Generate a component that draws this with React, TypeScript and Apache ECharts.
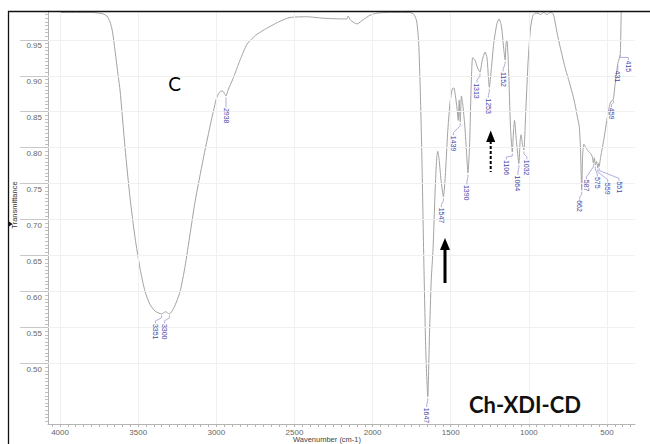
import React, { useEffect, useRef } from 'react';
import * as echarts from 'echarts';

// Spectrum: [wavenumber (cm-1), transmittance]
const spectrum: [number, number][] = [
  [4000, 0.988], [3900, 0.988], [3800, 0.988], [3750, 0.987], [3725, 0.986],
  [3700, 0.983], [3680, 0.975], [3665, 0.962], [3648, 0.935], [3627, 0.898],
  [3616, 0.88], [3584, 0.8], [3552, 0.73], [3520, 0.675], [3488, 0.632],
  [3456, 0.6], [3424, 0.582], [3392, 0.573], [3351, 0.569], [3325, 0.572],
  [3300, 0.569], [3270, 0.578], [3232, 0.6], [3200, 0.635], [3168, 0.68],
  [3136, 0.725], [3085, 0.783], [3040, 0.83], [3000, 0.868], [2980, 0.877],
  [2960, 0.879], [2950, 0.876], [2938, 0.872], [2925, 0.88], [2893, 0.896],
  [2848, 0.922], [2803, 0.944], [2750, 0.956], [2701, 0.963], [2600, 0.975],
  [2528, 0.981], [2420, 0.982], [2317, 0.98], [2200, 0.979], [2164, 0.979],
  [2157, 0.983], [2140, 0.977], [2100, 0.972], [2060, 0.978], [2017, 0.984],
  [1972, 0.987], [1900, 0.988], [1800, 0.988], [1761, 0.988], [1735, 0.985],
  [1718, 0.976], [1705, 0.945], [1695, 0.88], [1684, 0.78], [1672, 0.64],
  [1660, 0.52], [1647, 0.454], [1636, 0.54], [1625, 0.615], [1613, 0.66],
  [1600, 0.74], [1590, 0.785], [1583, 0.795], [1575, 0.785], [1562, 0.755],
  [1547, 0.732], [1535, 0.76], [1520, 0.82], [1505, 0.862], [1490, 0.882],
  [1480, 0.883], [1470, 0.872], [1460, 0.855], [1452, 0.838], [1446, 0.866],
  [1439, 0.836], [1432, 0.872], [1424, 0.862], [1410, 0.83], [1398, 0.79],
  [1390, 0.765], [1380, 0.8], [1370, 0.88], [1360, 0.925], [1345, 0.922],
  [1330, 0.912], [1313, 0.905], [1298, 0.922], [1280, 0.933], [1268, 0.925],
  [1253, 0.884], [1240, 0.91], [1225, 0.945], [1205, 0.972], [1191, 0.979],
  [1175, 0.968], [1160, 0.935], [1152, 0.922], [1146, 0.945], [1140, 0.949],
  [1130, 0.91], [1118, 0.83], [1106, 0.794], [1098, 0.825], [1092, 0.838],
  [1080, 0.81], [1064, 0.778], [1056, 0.81], [1050, 0.818], [1040, 0.803],
  [1032, 0.797], [1020, 0.85], [1005, 0.92], [990, 0.965], [974, 0.984],
  [955, 0.987], [942, 0.987], [925, 0.985], [905, 0.988], [885, 0.985],
  [865, 0.988], [844, 0.986], [820, 0.96], [800, 0.94], [769, 0.912],
  [740, 0.89], [716, 0.871], [700, 0.855], [690, 0.843], [678, 0.83],
  [670, 0.8], [662, 0.741], [656, 0.79], [648, 0.805], [635, 0.8],
  [620, 0.795], [605, 0.792], [595, 0.788], [587, 0.779], [581, 0.786],
  [575, 0.776], [567, 0.781], [559, 0.772], [555, 0.778], [551, 0.774],
  [540, 0.788], [520, 0.812], [500, 0.84], [480, 0.862], [470, 0.865],
  [459, 0.868], [450, 0.885], [445, 0.893], [438, 0.905], [431, 0.917],
  [424, 0.922], [418, 0.928], [415, 0.931], [412, 0.955], [409, 0.988],
  [405, 0.99],
];

const peakWavenumbers = [3351, 3300, 2938, 1647, 1547, 1439, 1390, 1313, 1253, 1152, 1106, 1064, 1032, 662, 587, 575, 559, 551, 459, 431, 415];
const peakTransmittance = [0.569, 0.569, 0.872, 0.454, 0.732, 0.836, 0.765, 0.905, 0.884, 0.922, 0.794, 0.778, 0.797, 0.741, 0.779, 0.776, 0.772, 0.774, 0.868, 0.917, 0.931];
// label layout (pixel shifts of the rotated labels relative to their peak)
const labelShift: [number, number][] = [
  [-6, 0], [-5, 0], [0, 2], [-1, 1], [-2, 1], [-7, 4], [-1, 2], [-3, 1], [-1, 1], [-2, 2],
  [-6, -2], [-1, 2], [3, 0], [-2, 0], [-7, 7], [2, 2], [10, 5], [20, 5], [-2, -1], [0, -3], [8, -3],
];

const xTickLabels = [4000, 3500, 3000, 2500, 2000, 1500, 1000, 500];
const yTickLabels = [0.95, 0.9, 0.85, 0.8, 0.75, 0.7, 0.65, 0.6, 0.55, 0.5];

const X_MIN = 321;
const X_MAX = 4077;
const Y_MIN = 0.416;
const Y_MAX = 0.99;

const xMinorTicks: number[] = [];
for (let v = 350; v <= 4050; v += 50) xMinorTicks.push(v);
const yMinorTicks: number[] = [];
for (let k = 84; k <= 198; k++) yMinorTicks.push(Math.round(k * 5) / 1000);

export default function App() {
  const ref = useRef<HTMLDivElement>(null);
  useEffect(() => {
    if (!ref.current) return;
    const chart = echarts.init(ref.current, undefined, { renderer: 'svg' });
    const gridMarks = [
      ...xTickLabels.map((v) => ({ xAxis: v })),
      ...yTickLabels.map((v) => ({ yAxis: v })),
    ];
    chart.setOption({
      animation: false,
      backgroundColor: '#ffffff',
      grid: { left: 48, right: 15, top: 11, bottom: 20, outerBoundsMode: 'none', containLabel: false },
      xAxis: [
        {
          type: 'value',
          inverse: true,
          min: X_MIN,
          max: X_MAX,
          position: 'bottom',
          axisLine: { show: true, lineStyle: { color: '#b4b4b4', width: 1 } },
          axisTick: { show: true, customValues: xMinorTicks, length: 3, lineStyle: { color: '#b4b4b4' } },
          axisLabel: {
            customValues: xTickLabels,
            color: '#666',
            fontSize: 8,
            fontFamily: '"Liberation Sans", Arial, sans-serif',
            margin: 4,
            formatter: (v: number) => String(v),
          },
          splitLine: { show: false },
        },
      ],
      yAxis: [
        {
          type: 'value',
          min: Y_MIN,
          max: Y_MAX,
          position: 'left',
          axisLine: { show: true, lineStyle: { color: '#b4b4b4', width: 1 } },
          axisTick: { show: true, customValues: yTickLabels, length: 28, lineStyle: { color: '#c8c8c8' } },
          axisLabel: {
            customValues: yTickLabels,
            color: '#666',
            fontSize: 8,
            fontFamily: '"Liberation Sans", Arial, sans-serif',
            margin: 6,
            verticalAlign: 'top',
            padding: [2, 0, 0, 0],
            formatter: (v: number) => v.toFixed(2),
          },
          splitLine: { show: false },
        },
        {
          type: 'value',
          min: Y_MIN,
          max: Y_MAX,
          position: 'left',
          axisLine: { show: false },
          axisTick: { show: true, customValues: yMinorTicks, length: 3, lineStyle: { color: '#c0c0c0' } },
          axisLabel: { show: false },
          splitLine: { show: false },
        },
      ],
      series: [
        {
          type: 'line',
          data: [[xTickLabels[0], yTickLabels[0]]],
          showSymbol: false,
          lineStyle: { opacity: 0 },
          silent: true,
          z: 1,
          markLine: {
            silent: true,
            symbol: ['none', 'none'],
            label: { show: false },
            lineStyle: { color: '#f0f0f0', width: 1, type: 'solid' },
            data: gridMarks,
          },
        },
        {
          type: 'line',
          data: spectrum,
          showSymbol: false,
          smooth: 0.2,
          lineStyle: { color: '#a2a2a2', width: 1 },
          silent: true,
          z: 3,
        },
        {
          type: 'custom',
          silent: true,
          clip: false,
          z: 5,
          data: peakWavenumbers.map((w, i) => [w, peakTransmittance[i], i]),
          renderItem: (_params: any, api: any) => {
            const i = api.value(2);
            const p = api.coord([api.value(0), api.value(1)]);
            const [dx, dy] = labelShift[i];
            const tx = p[0] + dx;
            const ty = p[1] + 10 + dy;
            return {
              type: 'group',
              children: [
                {
                  type: 'polyline',
                  shape: { points: [[p[0], p[1] + 1.5], [p[0], p[1] + 4], [tx, ty - 3], [tx, ty - 0.5]] },
                  style: { stroke: '#9a9ad6', lineWidth: 0.8, fill: null },
                },
                {
                  type: 'text',
                  x: tx,
                  y: ty,
                  rotation: -Math.PI / 2,
                  style: {
                    text: String(peakWavenumbers[i]),
                    fill: '#4646a8',
                    font: '7px "Liberation Sans", Arial, sans-serif',
                    align: 'left',
                    verticalAlign: 'middle',
                  },
                },
              ],
            };
          },
        },
      ],
      graphic: [
        { type: 'line', shape: { x1: 8.5, y1: 11, x2: 8.5, y2: 444 }, style: { stroke: '#111', lineWidth: 1.3 }, z: 100 },
        { type: 'line', shape: { x1: 8, y1: 11.5, x2: 650, y2: 11.5 }, style: { stroke: '#111', lineWidth: 1.3 }, z: 100 },
        { type: 'polygon', shape: { points: [[9, 221.5], [9, 226.5], [12.5, 224]] }, style: { fill: '#111' }, z: 100 },
        {
          type: 'text', x: 14, y: 205, rotation: Math.PI / 2, z: 50,
          style: { text: 'Transmittance', fill: '#333', font: '7.5px "Liberation Sans", Arial, sans-serif', align: 'center', verticalAlign: 'middle' },
        },
        {
          type: 'text', x: 327, y: 439.5, z: 50,
          style: { text: 'Wavenumber (cm-1)', fill: '#444', font: '7.5px "Liberation Sans", Arial, sans-serif', align: 'center', verticalAlign: 'middle' },
        },
        {
          type: 'text', x: 174.5, y: 83, z: 50,
          style: { text: 'C', fill: '#000', font: '19px Lato, "Open Sans", sans-serif', align: 'center', verticalAlign: 'middle' },
        },
        {
          type: 'text', x: 525, y: 404, z: 50,
          style: { text: 'Ch-XDI-CD', fill: '#111', font: 'bold 22px Lato, "Open Sans", sans-serif', align: 'center', verticalAlign: 'middle' },
        },
        // solid arrow
        { type: 'line', shape: { x1: 445, y1: 248, x2: 445, y2: 283 }, style: { stroke: '#000', lineWidth: 3 }, z: 50 },
        { type: 'polygon', shape: { points: [[445, 238], [450, 250], [440, 250]] }, style: { fill: '#000' }, z: 50 },
        // dashed arrow
        { type: 'line', shape: { x1: 490.7, y1: 141, x2: 490.7, y2: 172 }, style: { stroke: '#000', lineWidth: 2, lineDash: [3, 2] }, z: 50 },
        { type: 'polygon', shape: { points: [[490.7, 130.5], [495.2, 142], [486.2, 142]] }, style: { fill: '#000' }, z: 50 },
      ],
    });
    return () => chart.dispose();
  }, []);
  return <div ref={ref} style={{ position: 'fixed', left: 0, top: 0, width: 650, height: 444 }} />;
}
